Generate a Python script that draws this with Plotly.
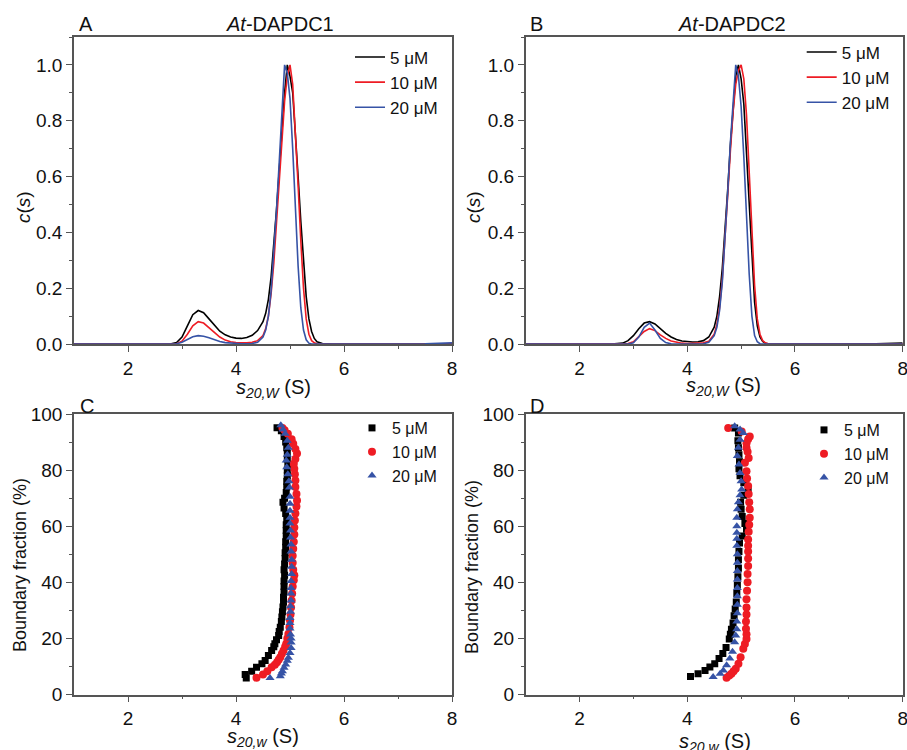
import plotly.graph_objects as go

# ---------------- data ----------------
s_grid = [1.0, 2.6, 2.8, 2.9, 3.0, 3.1, 3.2, 3.3, 3.4, 3.5, 3.6, 3.7, 3.8, 3.9, 4.0, 4.1, 4.2,
          4.3, 4.4, 4.5, 4.55, 4.6, 4.65, 4.7, 4.75, 4.8, 4.85, 4.9, 4.95, 5.0, 5.05, 5.1,
          5.15, 5.2, 5.25, 5.3, 5.35, 5.4, 5.45, 5.5, 5.6, 5.7, 5.8, 6.0, 7.0, 7.5, 8.0]

cA_5 = [0, 0, 0.001, 0.005, 0.025, 0.065, 0.105, 0.12, 0.112, 0.09, 0.066, 0.046, 0.033, 0.025, 0.021, 0.02, 0.023,
        0.031, 0.048, 0.08, 0.11, 0.16, 0.24, 0.35, 0.48, 0.62, 0.77, 0.90, 1.0, 0.96, 0.90, 0.76,
        0.60, 0.44, 0.29, 0.17, 0.09, 0.045, 0.02, 0.008, 0.002, 0, 0, 0, 0, 0, 0]
cA_10 = [0, 0, 0, 0.001, 0.01, 0.035, 0.065, 0.08, 0.075, 0.058, 0.04, 0.025, 0.014, 0.008, 0.005, 0.004, 0.004,
         0.006, 0.012, 0.03, 0.055, 0.1, 0.18, 0.29, 0.43, 0.58, 0.74, 0.87, 0.96, 1.0, 0.93, 0.77,
         0.57, 0.37, 0.2, 0.09, 0.035, 0.012, 0.004, 0.001, 0, 0, 0, 0, 0, 0, 0]
cA_20 = [0, 0, 0, 0.001, 0.006, 0.016, 0.026, 0.03, 0.028, 0.022, 0.015, 0.009, 0.005, 0.003, 0.002, 0.001, 0.001,
         0.002, 0.006, 0.025, 0.05, 0.1, 0.19, 0.32, 0.48, 0.65, 0.82, 1.0, 0.97, 0.88, 0.70, 0.48,
         0.28, 0.13, 0.05, 0.015, 0.003, 0, 0, 0, 0, 0, 0, 0, 0, 0.001, 0.004]

cB_5 = [0, 0, 0.003, 0.012, 0.03, 0.055, 0.075, 0.08, 0.072, 0.055, 0.038, 0.025, 0.016, 0.011, 0.008, 0.007, 0.008,
        0.012, 0.025, 0.06, 0.1, 0.17, 0.27, 0.4, 0.55, 0.71, 0.85, 0.96, 1.0, 0.95, 0.86, 0.68,
        0.48, 0.29, 0.15, 0.065, 0.025, 0.009, 0.003, 0.001, 0, 0, 0, 0, 0, 0.001, 0.003]
cB_10 = [0, 0, 0, 0.002, 0.008, 0.025, 0.045, 0.055, 0.048, 0.033, 0.02, 0.011, 0.006, 0.003, 0.002, 0.002, 0.002,
         0.004, 0.01, 0.035, 0.07, 0.13, 0.23, 0.37, 0.53, 0.69, 0.83, 0.93, 0.98, 1.0, 0.95, 0.82,
         0.62, 0.4, 0.21, 0.09, 0.035, 0.012, 0.004, 0.001, 0, 0, 0, 0, 0, 0, 0]
cB_20 = [0, 0, 0, 0, 0.004, 0.025, 0.06, 0.075, 0.05, 0.02, 0.005, 0.001, 0, 0, 0, 0, 0,
         0.001, 0.006, 0.03, 0.06, 0.12, 0.22, 0.37, 0.54, 0.72, 0.88, 1.0, 0.96, 0.85, 0.67, 0.45,
         0.25, 0.1, 0.03, 0.008, 0.001, 0, 0, 0, 0, 0, 0, 0, 0, 0, 0]

# panel C (At-DAPDC1) van Holde-Weischet
bfC_5 = [5.9, 7.1, 8.3, 9.7, 11.0, 12.1, 13.9, 15.7, 17.0, 18.1, 19.5, 21.0, 22.5, 24.0, 26.0, 27.6, 29.5,
         31.2, 33.0, 34.7, 36.5, 38.5, 40.5, 42.5, 44.5, 46.5, 48.5, 50.5, 52.5, 54.5, 56.5, 58.5, 60.5,
         62.5, 64.5, 66.5, 68.5, 70.0, 72.0, 74.0, 76.0, 78.0, 80.0, 82.0, 84.0, 86.0, 88.0, 90.0, 92.0,
         94.0, 95.1]
sC_5 = [4.19, 4.17, 4.29, 4.38, 4.48, 4.54, 4.60, 4.66, 4.70, 4.72, 4.75, 4.79, 4.80, 4.82, 4.84, 4.85, 4.86,
        4.87, 4.88, 4.88, 4.89, 4.89, 4.89, 4.90, 4.89, 4.90, 4.91, 4.91, 4.92, 4.92, 4.93, 4.93, 4.93,
        4.94, 4.92, 4.89, 4.87, 4.90, 4.93, 4.94, 4.94, 4.95, 4.95, 4.96, 4.95, 4.95, 4.94, 4.92, 4.89,
        4.84, 4.76]
bfC_10 = [6.0, 7.1, 8.3, 9.7, 10.6, 11.5, 12.4, 13.3, 14.5, 15.7, 17.0, 18.1, 20.0, 21.6, 24.0, 26.4, 28.5,
          31.0, 33.5, 36.0, 38.5, 40.7, 42.5, 44.5, 47.0, 49.5, 52.0, 54.5, 57.0, 59.5, 62.0, 64.5, 67.0,
          69.2, 71.5, 74.0, 76.3, 78.5, 80.5, 82.3, 84.0, 85.9, 87.5, 89.4, 91.0, 93.0, 94.2, 95.0]
sC_10 = [4.38, 4.50, 4.58, 4.66, 4.72, 4.76, 4.79, 4.82, 4.85, 4.88, 4.91, 4.93, 4.95, 4.97, 4.99, 5.00, 5.01,
         5.02, 5.03, 5.04, 5.05, 5.07, 5.08, 5.06, 5.05, 5.05, 5.06, 5.07, 5.08, 5.08, 5.09, 5.10, 5.12,
         5.13, 5.12, 5.10, 5.10, 5.09, 5.08, 5.07, 5.10, 5.13, 5.10, 5.06, 5.03, 4.96, 4.90, 4.86]
bfC_20 = [5.9, 6.5, 7.5, 8.3, 9.5, 10.7, 12.0, 13.1, 14.8, 16.6, 18.5, 20.0, 21.4, 23.5, 25.5, 27.3, 29.5,
          31.5, 33.5, 36.0, 38.0, 40.5, 43.0, 45.5, 48.0, 51.0, 53.5, 56.0, 58.5, 61.0, 63.0, 65.5, 68.0,
          70.5, 73.8, 76.0, 78.5, 81.0, 83.4, 85.5, 88.0, 90.5, 93.0, 94.5, 96.0]
sC_20 = [4.63, 4.82, 4.84, 4.86, 4.89, 4.92, 4.95, 4.97, 5.00, 5.02, 5.02, 5.02, 5.01, 5.00, 5.00, 5.00, 5.01,
         5.01, 5.02, 5.02, 5.02, 5.02, 5.03, 5.03, 5.03, 5.02, 5.02, 5.01, 5.01, 5.00, 5.00, 5.00, 5.00,
         5.00, 4.99, 4.98, 4.96, 4.94, 4.93, 4.95, 4.97, 4.95, 4.91, 4.87, 4.83]

# panel D (At-DAPDC2)
bfD_5 = [6.4, 7.4, 8.6, 9.8, 11.0, 12.8, 14.6, 16.8, 19.8, 21.5, 23.3, 25.5, 28.1, 30.5, 33.0, 36.0, 39.0,
         42.0, 45.0, 48.0, 51.0, 54.0, 56.5, 58.9, 61.0, 63.5, 66.0, 68.5, 71.0, 73.1, 75.5, 78.0, 80.5,
         83.0, 85.5, 88.0, 90.5, 93.2, 95.0]
sD_5 = [4.06, 4.20, 4.33, 4.42, 4.51, 4.59, 4.66, 4.72, 4.78, 4.80, 4.82, 4.85, 4.87, 4.89, 4.91, 4.92, 4.93,
        4.94, 4.95, 4.95, 4.96, 4.97, 5.02, 5.10, 5.07, 5.02, 5.00, 4.99, 5.05, 5.13, 5.05, 4.98, 4.96,
        4.97, 4.96, 4.95, 4.94, 4.95, 4.88]
bfD_10 = [6.0, 6.8, 7.4, 8.3, 9.2, 11.0, 13.3, 16.3, 18.0, 19.8, 21.5, 23.4, 26.0, 28.5, 31.0, 34.0, 37.0,
          40.0, 43.0, 45.8, 48.5, 51.0, 53.0, 55.3, 58.0, 60.5, 63.0, 66.0, 68.5, 71.5, 74.3, 77.0, 79.6,
          82.6, 84.3, 86.5, 88.0, 89.6, 91.0, 92.0, 93.8, 95.0]
sD_10 = [4.73, 4.78, 4.82, 4.86, 4.90, 4.95, 4.99, 5.04, 5.07, 5.10, 5.10, 5.09, 5.09, 5.10, 5.10, 5.10, 5.11,
         5.12, 5.12, 5.13, 5.13, 5.13, 5.13, 5.13, 5.14, 5.15, 5.16, 5.16, 5.15, 5.14, 5.13, 5.11, 5.10,
         5.07, 5.14, 5.12, 5.10, 5.10, 5.13, 5.16, 5.01, 4.76]
bfD_20 = [6.2, 7.4, 8.6, 10.4, 12.8, 15.2, 18.6, 21.0, 23.3, 26.0, 29.0, 32.0, 35.0, 38.0, 41.0, 44.0, 47.0,
          50.0, 53.0, 55.5, 57.7, 60.0, 63.0, 66.0, 68.5, 71.0, 73.1, 76.0, 79.0, 82.0, 85.0, 88.0, 90.8,
          93.2, 94.5, 95.6]
sD_20 = [4.48, 4.61, 4.67, 4.73, 4.79, 4.84, 4.88, 4.90, 4.92, 4.92, 4.93, 4.93, 4.93, 4.93, 4.93, 4.93, 4.93,
         4.93, 4.92, 4.92, 4.92, 4.92, 4.92, 4.93, 4.95, 4.98, 5.01, 5.00, 4.98, 4.96, 4.93, 4.95, 4.98,
         5.04, 4.98, 4.88]

series_names = ["5 \u03bcM", "10 \u03bcM", "20 \u03bcM"]
colors = ["#000000", "#ee1c24", "#3653a6"]
symbols = ["square", "circle", "triangle-up"]
marker_sizes = [7, 8, 8]

x_ticks = [2, 4, 6, 8]
cs_ticks = [0.0, 0.2, 0.4, 0.6, 0.8, 1.0]
bf_ticks = [0, 20, 40, 60, 80, 100]

# ---------------- figure ----------------
W, H = 907, 750
FONT = "Liberation Sans, Arial, sans-serif"
AX = "#555555"

fig = go.Figure()

def px_x(p):
    return p / W

def px_y(p):
    return 1 - p / H

top_curves = [(cA_5, cA_10, cA_20), (cB_5, cB_10, cB_20)]
for panel, curves in enumerate(top_curves):
    xa = "x" if panel == 0 else "x2"
    ya = "y" if panel == 0 else "y2"
    leg = "legend" if panel == 0 else "legend2"
    for i, c in enumerate(curves):
        fig.add_trace(go.Scatter(x=s_grid, y=c, mode="lines", name=series_names[i],
                                 line=dict(color=colors[i], width=1.6),
                                 xaxis=xa, yaxis=ya, legend=leg))

bottom = [((sC_5, bfC_5), (sC_10, bfC_10), (sC_20, bfC_20)),
          ((sD_5, bfD_5), (sD_10, bfD_10), (sD_20, bfD_20))]
for panel, sets in enumerate(bottom):
    xa = "x3" if panel == 0 else "x4"
    ya = "y3" if panel == 0 else "y4"
    leg = "legend3" if panel == 0 else "legend4"
    for i, (sv, bv) in enumerate(sets):
        fig.add_trace(go.Scatter(x=sv, y=bv, mode="markers", name=series_names[i],
                                 marker=dict(color=colors[i], symbol=symbols[i], size=marker_sizes[i],
                                             line=dict(width=0)),
                                 xaxis=xa, yaxis=ya, legend=leg))

def xaxis_cfg(dom, anchor):
    return dict(domain=dom, anchor=anchor, range=[1, 8], tickvals=x_ticks, automargin=False,
                ticklabeloverflow="allow",
                showline=True, linecolor=AX, linewidth=1.5, mirror=True,
                ticks="outside", ticklen=6, tickwidth=1.3, tickcolor=AX,
                minor=dict(tickvals=[3, 5, 7], ticks="outside", ticklen=3, tickwidth=1.2, tickcolor=AX),
                showgrid=False, zeroline=False,
                tickfont=dict(family=FONT, size=19, color="#111111"))

def yaxis_cfg(dom, anchor, rng, tv, fmt, minor_vals):
    return dict(domain=dom, anchor=anchor, range=rng, tickvals=tv, tickformat=fmt, automargin=False,
                ticklabeloverflow="allow",
                showline=True, linecolor=AX, linewidth=1.5, mirror=True,
                ticks="outside", ticklen=6, tickwidth=1.3, tickcolor=AX,
                minor=dict(tickvals=minor_vals, ticks="outside", ticklen=3, tickwidth=1.2, tickcolor=AX),
                showgrid=False, zeroline=False,
                tickfont=dict(family=FONT, size=19, color="#111111"))

xL = [px_x(74), px_x(452)]
xR = [px_x(525.7), px_x(902.7)]
yT = [px_y(344), px_y(37)]
yB = [px_y(694.5), px_y(414)]

cs_minor = [0.1, 0.3, 0.5, 0.7, 0.9, 1.1]
bf_minor = [10, 30, 50, 70, 90]

fig.update_layout(
    width=W, height=H, margin=dict(l=0, r=0, t=0, b=0, autoexpand=False),
    paper_bgcolor="white", plot_bgcolor="white",
    font=dict(family=FONT, size=18, color="#111111"),
    xaxis=xaxis_cfg(xL, "y"), yaxis=yaxis_cfg(yT, "x", [0, 1.1], cs_ticks, ".1f", cs_minor),
    xaxis2=xaxis_cfg(xR, "y2"), yaxis2=yaxis_cfg(yT, "x2", [0, 1.1], cs_ticks, ".1f", cs_minor),
    xaxis3=xaxis_cfg(xL, "y3"), yaxis3=yaxis_cfg(yB, "x3", [0, 100], bf_ticks, "d", bf_minor),
    xaxis4=xaxis_cfg(xR, "y4"), yaxis4=yaxis_cfg(yB, "x4", [0, 100], bf_ticks, "d", bf_minor),
    showlegend=True,
)

def leg_cfg(x, y, size):
    return dict(x=px_x(x), y=px_y(y), xanchor="left", yanchor="top", bgcolor="rgba(0,0,0,0)",
                font=dict(family=FONT, size=size, color="#111111"),
                tracegroupgap=0, itemclick=False, itemdoubleclick=False)

fig.update_layout(
    legend=leg_cfg(350, 39.5, 17),
    legend2=leg_cfg(801.7, 34.5, 17),
    legend3=leg_cfg(352, 411, 16),
    legend4=leg_cfg(804, 413, 16),
)

def ann(text, x, y, size=20, xanchor="center", angle=0):
    fig.add_annotation(text=text, x=px_x(x), y=px_y(y), xref="paper", yref="paper",
                       xanchor=xanchor, yanchor="middle", showarrow=False, textangle=angle,
                       font=dict(family=FONT, size=size, color="#111111"))

# panel letters
ann("A", 77, 24, 20, "left")
ann("B", 528, 24, 20, "left")
ann("C", 78, 406, 20, "left")
ann("D", 528, 406, 20, "left")
# panel titles
ann("<i>At</i>-DAPDC1", 280, 24, 20)
ann("<i>At</i>-DAPDC2", 732, 24, 20)
# y titles
ann("<i>c</i>(<i>s</i>)", 23, 207, 19, angle=-90)
ann("<i>c</i>(<i>s</i>)", 473, 207, 19, angle=-90)
ann("Boundary fraction (%)", 20, 565, 18, angle=-90)
ann("Boundary fraction (%)", 472, 567, 18, angle=-90)
# x titles
ann("<i>s</i><sub><i>20,W</i></sub> (S)", 273, 388, 20)
ann("<i>s</i><sub><i>20,W</i></sub> (S)", 723, 386, 20)
ann("<i>s</i><sub><i>20,w</i></sub> (S)", 263, 737, 20)
ann("<i>s</i><sub><i>20,w</i></sub> (S)", 715, 742, 20)

fig.write_html("out.html", config={"displayModeBar": False},
               post_script="document.body.style.margin='0px';"
                           "document.documentElement.style.overflow='hidden';")
